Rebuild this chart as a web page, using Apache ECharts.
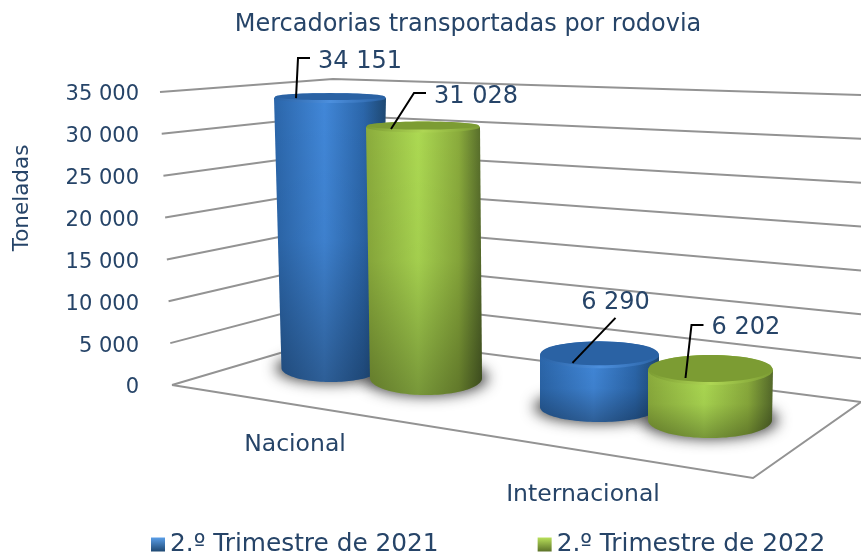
<!DOCTYPE html>
<html>
<head>
    <meta charset="utf-8"/>
    <title>Mercadorias transportadas por rodovia</title>
    <style>
        body { margin: 0; padding: 0; background: #fff; }
        #chart { width: 861px; height: 557px; }
    </style>
</head>
<body>
<div id="chart"></div>
<script src="https://cdn.jsdelivr.net/npm/echarts@6/dist/echarts.min.js"></script>
<script>
    var categories = ['Nacional', 'Internacional'];
    var seriesNames = ['2.º Trimestre de 2021', '2.º Trimestre de 2022'];
    var values2021 = [34151, 6290];
    var values2022 = [31028, 6202];
    var tickValues = [0, 5000, 10000, 15000, 20000, 25000, 30000, 35000];

    var textColor = '#264468';
    var fontName = '"DejaVu Sans", Verdana, sans-serif';
    var maxValue = 35000;

    // fake perspective: where each cylinder stands, relative to its category position on the axes
    // [serie][categoria]
    var cylinders = [
        [
            {dx: 36, dy: -17, topDx: -1, rxTop: 56, ryTop: 5, rxBase: 49.5, ryBase: 14, scale: 0.944},
            {dx: 16.5, dy: 22, topDx: 0, rxTop: 59.5, ryTop: 13.5, rxBase: 59.5, ryBase: 15, scale: 0.99}
        ],
        [
            {dx: 131, dy: -7, topDx: -3, rxTop: 57, ryTop: 5.5, rxBase: 56, ryBase: 17, scale: 0.966},
            {dx: 127, dy: 35, topDx: 0.5, rxTop: 62.5, ryTop: 15, rxBase: 62, ryBase: 18, scale: 0.963}
        ]
    ];
    // data label leader: offsets from the top centre of the cylinder, then label anchor
    var leaders = [
        [
            {pts: [[-34, 0], [-32, -40], [-20, -40]], label: [-12, -36], align: 'left'},
            {pts: [[-27, 8], [16, -37]], label: [16, -52], align: 'center'}
        ],
        [
            {pts: [[-32, 2], [-9, -34], [3, -34]], label: [11, -30], align: 'left'},
            {pts: [[-25, 8], [-19, -45], [-7, -45]], label: [1, -42], align: 'left'}
        ]
    ];
    var palette = [
        {edgeL: '#2b66aa', mid: '#4187d8', edgeR: '#1e4872', top: '#2a62a4', rim: '#4c8fdd'},
        {edgeL: '#8aab3c', mid: '#acd952', edgeR: '#54692a', top: '#7c9c33', rim: '#aed654'}
    ];

    function ellipsePoints(cx, cy, rx, ry, from, to) {
        var pts = [];
        for (var i = 0; i <= 60; i++) {
            var a = from + (to - from) * i / 60;
            pts.push([cx + rx * Math.cos(a), cy + ry * Math.sin(a)]);
        }
        return pts;
    }

    function sideGradient(p) {
        return new echarts.graphic.LinearGradient(0, 0, 1, 0, [
            {offset: 0, color: p.edgeL},
            {offset: 0.45, color: p.mid},
            {offset: 0.8, color: p.edgeL},
            {offset: 1, color: p.edgeR}
        ]);
    }

    function rimGradient(p) {
        return new echarts.graphic.LinearGradient(0, 0, 1, 0, [
            {offset: 0, color: p.top},
            {offset: 0.5, color: p.rim},
            {offset: 1, color: p.top}
        ]);
    }

    function cylinderGeometry(api, s) {
        var cat = api.value(0);
        var v = api.value(1);
        var c = cylinders[s][cat];
        var base = api.coord([cat, 0]);
        var h = api.size([0, v])[1] * c.scale;
        return {
            c: c,
            bx: base[0] + c.dx,
            by: base[1] + c.dy,
            tx: base[0] + c.dx + c.topDx,
            ty: base[1] + c.dy - h
        };
    }

    function renderCylinder(s) {
        return function (params, api) {
            var g = cylinderGeometry(api, s);
            var c = g.c;
            var p = palette[s];
            var cat = api.value(0);
            var side = [[g.tx - c.rxTop, g.ty]]
                .concat(ellipsePoints(g.bx, g.by, c.rxBase, c.ryBase, Math.PI, 0))
                .concat([[g.tx + c.rxTop, g.ty]]);
            var l = leaders[s][cat];
            var line = l.pts.map(function (o) { return [g.tx + o[0], g.ty + o[1]]; });
            return {
                type: 'group',
                children: [
                    {type: 'polygon', shape: {points: side}, style: {fill: sideGradient(p)}},
                    {
                        type: 'polygon', shape: {points: side},
                        style: {
                            fill: new echarts.graphic.LinearGradient(0, 0, 0, 1, [
                                {offset: 0, color: 'rgba(0,0,0,0)'},
                                {offset: 0.5, color: 'rgba(0,0,0,0.05)'},
                                {offset: 1, color: 'rgba(0,0,0,0.3)'}
                            ])
                        }
                    },
                    {
                        type: 'polygon',
                        shape: {points: ellipsePoints(g.tx, g.ty, c.rxTop, c.ryTop, 0, Math.PI * 2)},
                        style: {fill: rimGradient(p)}
                    },
                    {
                        type: 'polygon',
                        shape: {points: ellipsePoints(g.tx, g.ty - 1.5, c.rxTop - 1, c.ryTop - 1.5, 0, Math.PI * 2)},
                        style: {fill: p.top}
                    },
                    {
                        type: 'polyline', shape: {points: line},
                        style: {stroke: '#000', lineWidth: 2, fill: null}
                    },
                    {
                        type: 'text', x: g.tx + l.label[0], y: g.ty + l.label[1],
                        style: {
                            text: api.value(1).toString().replace(/\B(?=(\d{3})+$)/g, ' '),
                            fill: textColor, font: '24px ' + fontName,
                            align: l.align, verticalAlign: 'middle'
                        }
                    }
                ]
            };
        };
    }

    // only the blur is wanted, so the ellipse itself sits off canvas and throws its shadow back
    function renderShadow(params, api) {
        var s = api.value(2);
        var g = cylinderGeometry(api, s);
        return {
            type: 'polygon',
            shape: {points: ellipsePoints(g.bx - 2000, g.by, g.c.rxBase + 6, g.c.ryBase + 1, 0, Math.PI * 2)},
            style: {fill: '#000', shadowColor: 'rgba(60,60,60,0.95)', shadowBlur: 14, shadowOffsetX: 2000}
        };
    }

    function renderWall(params, api) {
        var v = api.value(1);
        var t = v / maxValue;
        var y0 = api.coord([0, v])[1];
        var children = [{
            type: 'polyline',
            shape: {points: [[172 - 12 * t, y0], [341 - 8 * t, 335 - 256 * t], [861, 402 - 307 * t]]},
            style: {stroke: '#939393', lineWidth: 2, fill: null}
        }];
        if (v === 0) {
            children.push({
                type: 'polyline',
                shape: {points: [[172, y0], [753, 478], [861, 402]]},
                style: {stroke: '#939393', lineWidth: 2, fill: null}
            });
        }
        return {type: 'group', children: children};
    }

    function toPairs(values) {
        return values.map(function (v, i) { return [i, v]; });
    }

    var shadowData = [];
    [values2021, values2022].forEach(function (values, s) {
        values.forEach(function (v, i) { shadowData.push([i, v, s]); });
    });

    var chart = echarts.init(document.getElementById('chart'), null, {renderer: 'canvas'});
    chart.setOption({
        animation: false,
        title: {
            text: 'Mercadorias transportadas por rodovia',
            left: 463, top: 8, textAlign: 'center',
            textStyle: {color: textColor, fontFamily: fontName, fontSize: 24, fontWeight: 'normal'}
        },
        legend: {
            left: 151, top: 532, padding: 0, itemWidth: 14, itemHeight: 14, itemGap: 99,
            icon: 'rect',
            textStyle: {color: textColor, fontFamily: fontName, fontSize: 24.8},
            selectedMode: false,
            data: [
                {
                    name: seriesNames[0],
                    itemStyle: {
                        color: new echarts.graphic.LinearGradient(0, 0, 0, 1, [
                            {offset: 0, color: '#5a9ee8'}, {offset: 1, color: '#1e4872'}
                        ])
                    }
                },
                {
                    name: seriesNames[1],
                    itemStyle: {
                        color: new echarts.graphic.LinearGradient(0, 0, 0, 1, [
                            {offset: 0, color: '#b8e05a'}, {offset: 1, color: '#5c7229'}
                        ])
                    }
                }
            ]
        },
        grid: {left: 151, right: 134, top: 92, bottom: 172},
        xAxis: {
            type: 'category',
            data: categories,
            axisLine: {show: false},
            axisTick: {show: false},
            axisLabel: {
                color: textColor, fontFamily: fontName, fontSize: 23.5,
                margin: 35, lineHeight: 50,
                formatter: function (v, i) { return i === 1 ? '\n' + v : v; }
            }
        },
        yAxis: {
            type: 'value',
            min: 0, max: maxValue, interval: 5000,
            axisLine: {show: false},
            axisTick: {show: false},
            splitLine: {show: false},
            axisLabel: {
                color: textColor, fontFamily: fontName, fontSize: 21, margin: 12,
                rich: {
                    tick: {color: textColor, fontFamily: fontName, fontSize: 21, padding: [6, 0, 0, 0]}
                },
                formatter: function (v) { return '{tick|' + String(v).replace(/\B(?=(\d{3})+$)/g, ' ') + '}'; }
            }
        },
        graphic: [{
            type: 'text', x: 22, y: 198, rotation: Math.PI / 2,
            style: {
                text: 'Toneladas', fill: textColor, font: '21.5px ' + fontName,
                align: 'center', verticalAlign: 'middle'
            }
        }],
        series: [
            {
                name: 'grelha', type: 'custom', renderItem: renderWall, silent: true, z: 1,
                data: tickValues.map(function (v) { return [0, v]; }), encode: {x: 0, y: 1}
            },
            {
                name: 'sombras', type: 'custom', renderItem: renderShadow, silent: true, z: 2,
                data: shadowData, encode: {x: 0, y: 1}
            },
            {
                name: seriesNames[0], type: 'custom', renderItem: renderCylinder(0), z: 3,
                data: toPairs(values2021), encode: {x: 0, y: 1}, itemStyle: {color: '#3570b8'}
            },
            {
                name: seriesNames[1], type: 'custom', renderItem: renderCylinder(1), z: 4,
                data: toPairs(values2022), encode: {x: 0, y: 1}, itemStyle: {color: '#9cc445'}
            }
        ]
    });
</script>
</body>
</html>
